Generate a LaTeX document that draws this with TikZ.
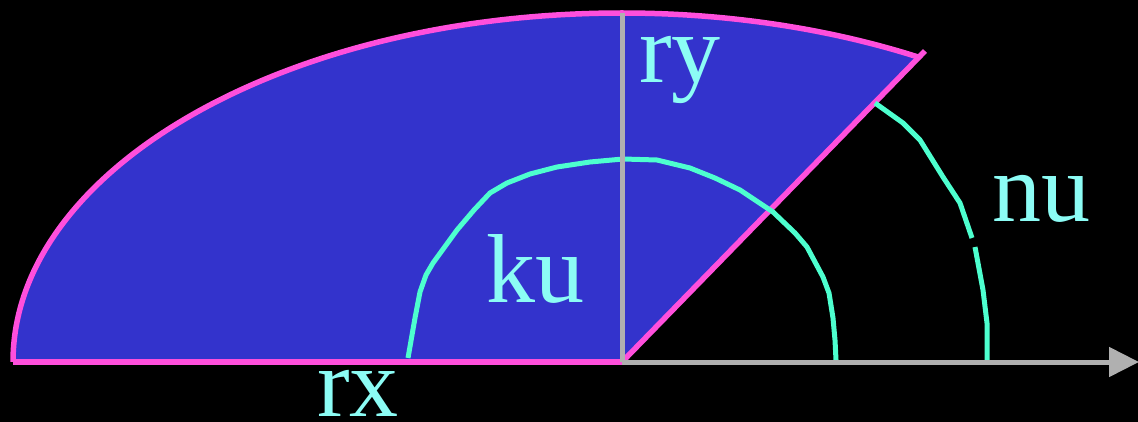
\documentclass[tikz,border=0pt]{standalone}
\usepackage{fontspec}
\setmainfont{Liberation Serif}
\usetikzlibrary{arrows.meta}
\definecolor{bluefill}{HTML}{3333CC}
\definecolor{mag}{HTML}{FF4FDC}
\definecolor{mint}{HTML}{4DFFCF}
\definecolor{lbl}{HTML}{8CFCF5}
\definecolor{axisgray}{HTML}{B0B0B0}
\begin{document}
\begin{tikzpicture}[x=1pt,y=-1pt,line join=round,
  edge/.style={draw=mag,line width=5.5pt},
  angarc/.style={draw=mint,line width=5pt},
  axisline/.style={draw=axisgray,line width=5pt},
  lab/.style={text=lbl,font=\fontsize{98}{98}\selectfont,inner sep=0pt,anchor=base west}]
\fill[black] (0,0) rectangle (1138,422);
\useasboundingbox (0,0) rectangle (1138,422);
\coordinate (O) at (622,362);
\coordinate (L) at (13,362);
\coordinate (T) at (925,51);
\coordinate (Top) at (622,13);
\coordinate (AxEnd) at (1139,362);
% filled sector
\fill[bluefill] (O) -- (L) arc[start angle=180,end angle=299,x radius=609,y radius=349] -- cycle;
% magenta outline
\draw[edge] (L) arc[start angle=180,end angle=299,x radius=609,y radius=349];
\draw[edge] (L) -- (O);
\draw[edge] (O) -- (T);
% angle arcs
\draw[angarc] (408,358) -- (415,318) -- (420,292) -- (426,275) -- (433,263) -- (457,230) -- (474,210) -- (490,193) -- (507,183)
  -- (530,174) -- (557,167) -- (590,162) -- (623,159) -- (657,160) -- (690,168) -- (715,178) -- (740,190)
  -- (773,212) -- (795,233) -- (807,247) -- (823,277) -- (829,293) -- (833,318) -- (835,340) -- (836,360);
\draw[angarc] (875,103) -- (903,123) -- (920,140) -- (943,177) -- (960,203) -- (972,238);
\draw[angarc] (975,247) -- (983,290) -- (987,323) -- (987,362);
% axes
\draw[axisline] (Top) -- (O);
\draw[axisline,-{Triangle[length=30pt,width=29pt]}] (O) -- (AxEnd);
% labels
\node[lab] (ry) at (639,83) {ry};
\node[lab] (ku) at (486,302) {ku};
\node[lab] (nu) at (992,222) {nu};
\node[lab] (rx) at (317,416) {rx};
\end{tikzpicture}
\end{document}
